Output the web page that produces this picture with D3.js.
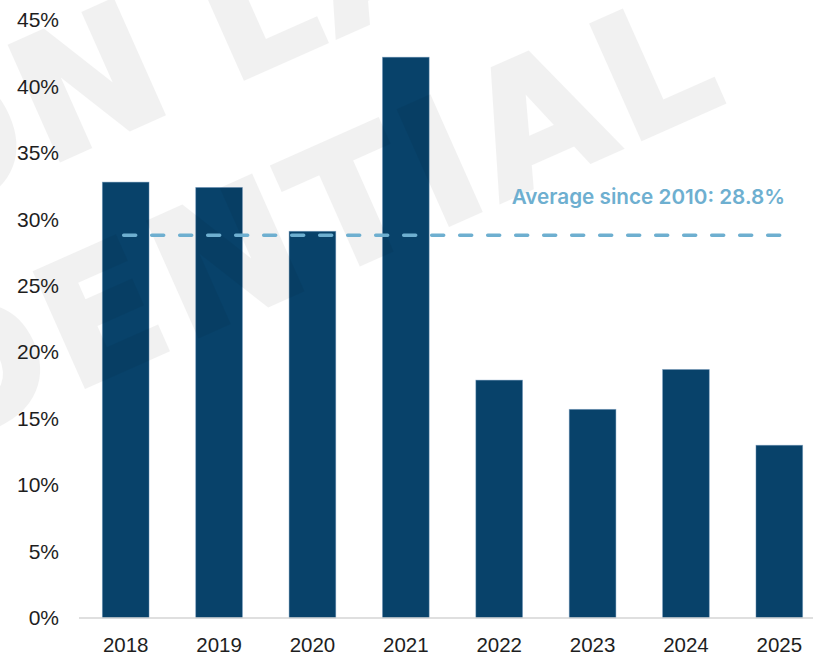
<!DOCTYPE html>
<html>
<head>
<meta charset="utf-8">
<script src="https://cdn.jsdelivr.net/npm/d3@7"></script>
<style>
  html, body { margin: 0; padding: 0; background: #ffffff; }
  svg { display: block; }
</style>
</head>
<body>
<div id="chart"></div>
<script>
// Yearly share values (percent)
const years = ["2018", "2019", "2020", "2021", "2022", "2023", "2024", "2025"];
const shares = [32.8, 32.4, 29.1, 42.2, 17.9, 15.7, 18.7, 13.0];
const yTicks = [0, 5, 10, 15, 20, 25, 30, 35, 40, 45];
const averageValue = 28.8;
const averageLabel = "Average since 2010: 28.8%";
const watermarkLines = ["COMMON LAW", "CONFIDENTIAL"];

const width = 813, height = 656;
const barColor = "#08426a";
const avgColor = "#6eafd0";

const svg = d3.select("#chart").append("svg")
  .attr("width", width)
  .attr("height", height);

const x = d3.scaleBand()
  .domain(years)
  .range([79, 826])
  .paddingInner(0.5)
  .paddingOuter(0.25);

const y = d3.scaleLinear()
  .domain([0, 45])
  .range([618, 20]);

// Bars
svg.append("g")
  .selectAll("rect")
  .data(years.map((yr, i) => ({ yr, v: shares[i] })))
  .join("rect")
  .attr("x", d => x(d.yr))
  .attr("width", x.bandwidth())
  .attr("y", d => y(d.v))
  .attr("height", d => y(0) - y(d.v))
  .attr("fill", barColor)
  .attr("stroke", "rgba(110,150,185,0.55)")
  .attr("stroke-width", 0.8);

// Faint diagonal watermark (group opacity so overlapping strokes don't stack)
const wm = svg.append("g")
  .attr("transform", "translate(638,140) rotate(-24)")
  .attr("opacity", 0.05)
  .attr("font-family", "'DejaVu Sans', sans-serif")
  .attr("font-weight", 700)
  .attr("font-size", 170)
  .attr("letter-spacing", 8)
  .attr("fill", "#000")
  .attr("stroke", "#000")
  .attr("stroke-width", 5);
const [line1a, line1b] = watermarkLines[0].split(" ");
wm.append("text").attr("x", -349).attr("y", -217).text(line1b);
wm.append("text").attr("x", -400).attr("y", -217).attr("text-anchor", "end").text(line1a);
wm.append("text").attr("x", 106).attr("y", 0).attr("text-anchor", "end").text(watermarkLines[1]);

// Baseline axis
svg.append("line")
  .attr("x1", 79).attr("x2", width)
  .attr("y1", y(0)).attr("y2", y(0))
  .attr("stroke", "#d4d4d4")
  .attr("stroke-width", 1.5);

// Y axis labels
const yAxis = d3.axisLeft(y)
  .tickValues(yTicks)
  .tickFormat(d => d + "%")
  .tickSize(0)
  .tickPadding(0);
const yg = svg.append("g")
  .attr("transform", "translate(59,0)")
  .call(yAxis);
yg.select(".domain").remove();
yg.selectAll("text")
  .attr("font-family", "'Liberation Sans', Arial, sans-serif")
  .attr("font-size", 21)
  .attr("fill", "#1e1e1e");

// X axis labels
const xAxis = d3.axisBottom(x).tickSize(0).tickPadding(0);
const xg = svg.append("g")
  .attr("transform", "translate(0,637)")
  .call(xAxis);
xg.select(".domain").remove();
xg.selectAll("text")
  .attr("font-family", "'Liberation Sans', Arial, sans-serif")
  .attr("font-size", 20.5)
  .attr("fill", "#1e1e1e");

// Average reference line
svg.append("line")
  .attr("x1", x(years[0]) + x.bandwidth() / 2 - 2)
  .attr("x2", x(years[years.length - 1]) + x.bandwidth() / 2 + 4)
  .attr("y1", y(averageValue)).attr("y2", y(averageValue))
  .attr("stroke", avgColor)
  .attr("stroke-width", 3.5)
  .attr("stroke-linecap", "round")
  .attr("stroke-dasharray", "12 16");

svg.append("text")
  .attr("x", 785)
  .attr("y", 204)
  .attr("text-anchor", "end")
  .attr("font-family", "Inter, sans-serif")
  .attr("font-weight", 600)
  .attr("font-size", 20.7)
  .attr("fill", avgColor)
  .text(averageLabel);
</script>
</body>
</html>
